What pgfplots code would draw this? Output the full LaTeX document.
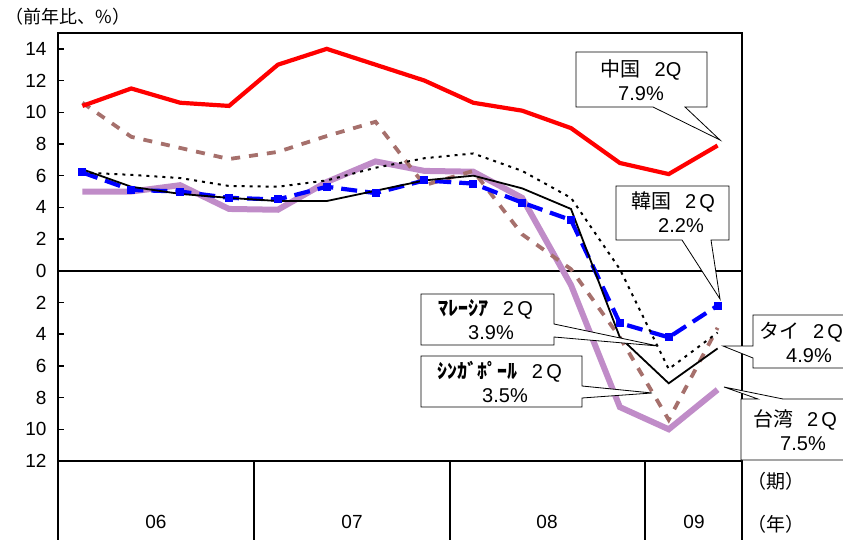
\documentclass[border=0pt]{standalone}
\usepackage{fontspec}
\setmainfont{Liberation Sans}
\newfontfamily\jp{Noto Sans CJK JP}
\usepackage{pgfplots}
\usepackage{pgfplotstable}
\pgfplotsset{compat=1.18}

\definecolor{sgcol}{RGB}{166,112,108}
\definecolor{twcol}{RGB}{192,140,200}

% quarters 2006Q1 ... 2009Q2
\pgfplotstableread{
q  cn    kr    th    my    sg    tw
0  10.4  6.2   6.4   6.2   10.6  5.0
1  11.5  5.1   5.3   6.05  8.45  5.0
2  10.6  5.0   4.85  5.85  7.75  5.4
3  10.4  4.6   4.6   5.35  7.05  3.9
4  13.0  4.5   4.4   5.3   7.5   3.85
5  14.0  5.3   4.4   5.7   8.5   5.6
6  13.0  4.9   5.05  6.5   9.4   6.9
7  12.0  5.7   5.7   7.1   5.4   6.3
8  10.6  5.5   6.0   7.4   6.3   6.25
9  10.1  4.3   5.2   6.3   2.3   4.6
10 9.0   3.2   3.9   4.6   0.1   -0.9
11 6.8   -3.3  -4.2  0.1   -4.2  -8.6
12 6.1   -4.2  -7.1  -6.2  -9.4  -10.0
13 7.9   -2.2  -4.9  -3.9  -3.6  -7.5
}\gdp

\begin{document}
\begin{tikzpicture}
\path[use as bounding box] (0,0) rectangle (843pt,539pt);
\clip (0,0) rectangle (843pt,539pt);
\begin{axis}[
  at={(58pt,78pt)}, anchor=south west,
  scale only axis, width=684pt, height=428pt,
  xmin=-0.5, xmax=13.5, ymin=-12, ymax=15,
  axis line style={line width=2pt},
  xtick=\empty,
  ytick={-12,-10,...,14},
  yticklabels={12,10,8,6,4,2,0,2,4,6,8,10,12,14},
  ytick pos=left, tick align=inside, major tick length=6pt,
  tick style={line width=1.5pt, black},
  yticklabel style={font=\fontsize{19}{19}\selectfont, xshift=-8pt},
  clip=false,
]
\draw[line width=2pt] (axis cs:-0.5,0) -- (axis cs:13.5,0);
\addplot[twcol, line width=6pt] table[x=q, y=tw] {\gdp};
\addplot[sgcol, line width=3.8pt, dash pattern=on 9pt off 9pt] table[x=q, y=sg] {\gdp};
\addplot[blue, line width=4.2pt, dash pattern=on 16pt off 8pt, mark=square*,
  mark size=3.5pt, mark options={solid, line width=0pt}] table[x=q, y=kr] {\gdp};
\addplot[black, line width=2pt, dash pattern=on 3pt off 5pt] table[x=q, y=my] {\gdp};
\addplot[black, line width=1.8pt] table[x=q, y=th] {\gdp};
\addplot[red, line width=4.2pt] table[x=q, y=cn] {\gdp};
\end{axis}

\begin{scope}[shift={(0,539pt)}, x=1pt, y=-1pt]
  % category rows under the plot
  \foreach \x in {58,254,450,645,742}
    \draw[line width=2pt] (\x,461) -- (\x,545);
  \foreach \x/\t in {156/06,352/07,547/08,694/09}
    \node[font=\fontsize{19}{19}\selectfont] at (\x,522) {\t};
  \node[font=\jp\fontsize{19}{19}\selectfont] at (776,481) {（期）};
  \node[font=\jp\fontsize{19}{19}\selectfont] at (776,524) {（年）};
  \node[font=\jp\fontsize{18}{18}\selectfont, anchor=west] at (2,17) {（前年比、\%）};

  % callouts
  \tikzset{co/.style={draw, fill=white, line width=0.8pt}}
  \tikzset{ct/.style={font=\fontsize{20}{24}\selectfont, align=center}}
  \filldraw[co] (576,52) -- (707,52) -- (707,107) -- (685,107) -- (720,140)
    -- (653,107) -- (576,107) -- cycle;
  \node[ct] at (641,80) {{\jp 中国}\hspace{14pt}2Q\\7.9\%};

  \filldraw[co] (616,186) -- (729,186) -- (729,240) -- (711,240) -- (720,299)
    -- (682,240) -- (616,240) -- cycle;
  \node[ct] at (673,212) {{\jp 韓国}\hspace{14pt}2\,Q\\\hspace{16pt}2.2\%};

  \filldraw[co] (421,294) -- (554,294) -- (554,324) -- (658,346) -- (554,337)
    -- (554,345) -- (421,345) -- cycle;
  \node[ct] at (486,320) {{\jp\bfseries ﾏﾚｰｼｱ}\hspace{14pt}2\,Q\\\hspace{10pt}3.9\%};

  \filldraw[co] (421,356) -- (582,356) -- (582,386) -- (652,393) -- (582,398)
    -- (582,407) -- (421,407) -- cycle;
  \node[ct] at (500,382) {{\jp\bfseries ｼﾝｶﾞﾎﾟｰﾙ}\hspace{14pt}2\,Q\\\hspace{10pt}3.5\%};

  \filldraw[co] (860,315) -- (753,315) -- (753,346) -- (723,346) -- (753,358)
    -- (753,368) -- (860,368) -- cycle;
  \node[ct] at (801,342) {{\jp タイ}\hspace{14pt}2\,Q\\\hspace{16pt}4.9\%};

  \filldraw[co] (860,399) -- (783,399) -- (724,387) -- (758,399) -- (741,399)
    -- (741,460) -- (860,460) -- cycle;
  \node[ct] at (795,430) {{\jp 台湾}\hspace{14pt}2\,Q\\\hspace{16pt}7.5\%};
\end{scope}
\end{tikzpicture}
\end{document}
